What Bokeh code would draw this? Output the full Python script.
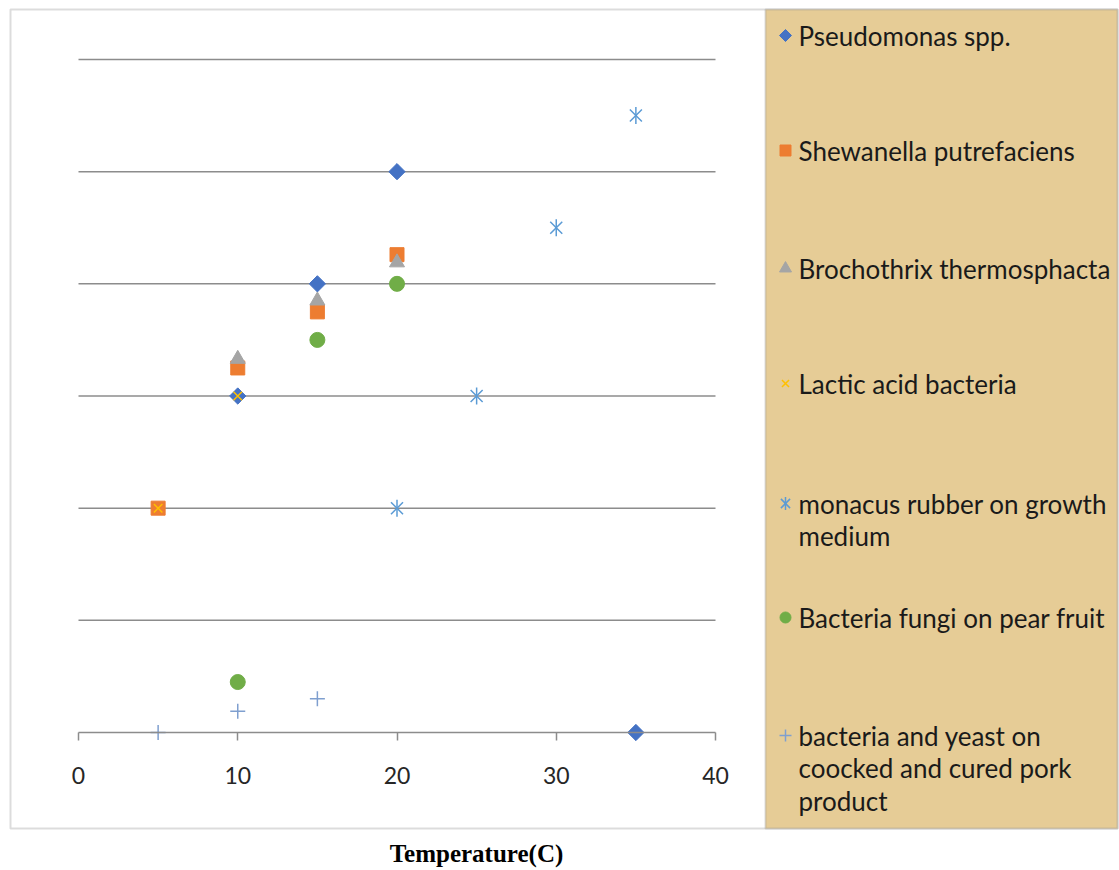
import math
from bokeh.plotting import figure
from bokeh.models import Range1d, FixedTicker, BoxAnnotation, Label
from bokeh.core.properties import value
from bokeh.embed import file_html
from bokeh.resources import INLINE

# ---------------- data ----------------
series_names = [
    "Pseudomonas spp.",
    "Shewanella putrefaciens",
    "Brochothrix thermosphacta",
    "Lactic acid bacteria",
    "monacus rubber on growth\nmedium",
    "Bacteria fungi on pear fruit",
    "bacteria and yeast on\ncoocked and cured pork\nproduct",
]
pseudomonas_x = [10, 15, 20, 35]
pseudomonas_y = [3, 4, 5, 0]
shewanella_x = [5, 10, 15, 20]
shewanella_y = [2, 3.25, 3.75, 4.26]
brochothrix_x = [10, 15, 20]
brochothrix_y = [3.33, 3.85, 4.19]
lactic_x = [5, 10]
lactic_y = [2, 3]
monacus_x = [20, 25, 30, 35]
monacus_y = [2, 3, 4.5, 5.5]
fungi_x = [10, 15, 20]
fungi_y = [0.45, 3.5, 4.0]
pork_x = [5, 10, 15]
pork_y = [0, 0.19, 0.3]
x_ticks = [0, 10, 20, 30, 40]
x_tick_labels = ["0", "10", "20", "30", "40"]
grid_levels = [1, 2, 3, 4, 5, 6]
x_title = "Temperature(C)"

# ---------------- layout / styles ----------------
W, H = 1119, 870
X0_PX, X40_PX = 78, 715          # pixel positions of x = 0 and x = 40
Y0_PX, Y6_PX = 732, 59           # pixel positions of y = 0 and y = 6
kx = (X40_PX - X0_PX) / 40.0
ky = (Y0_PX - Y6_PX) / 6.0
x_start = -X0_PX / kx
x_end = x_start + W / kx
y_end = Y0_PX / ky
y_start = y_end - H / ky

def cx(px):  # canvas px -> data x (for decorations only)
    return x_start + px / kx

def cy(py):  # canvas px -> data y (for decorations only)
    return y_end - py / ky

colors = ["#4472C4", "#ED7D31", "#A5A5A5", "#FFC000", "#5B9BD5", "#70AD47", "#7F9FCF"]
markers = ["square", "square", "triangle", "x", "x", "circle", "cross"]
angles = [math.pi / 4, 0, 0, 0, 0, 0, 0]
sizes = [11.5, 14, 15, 12, 17, 15, 15]
legend_sizes = [8.5, 11, 12, 10, 13, 11, 12]
filled = [True, True, True, False, False, True, False]
xs = [pseudomonas_x, shewanella_x, brochothrix_x, lactic_x, monacus_x, fungi_x, pork_x]
ys = [pseudomonas_y, shewanella_y, brochothrix_y, lactic_y, monacus_y, fungi_y, pork_y]
STAR = 4  # index of the star-marker series (x plus vertical bar)

GRID = "#8C8C8C"
FONT = "Lato"
TAN = "#E6CC96"

p = figure(width=W, height=H,
           x_range=Range1d(x_start, x_end), y_range=Range1d(y_start, y_end),
           output_backend="svg", toolbar_location=None,
           min_border=0, min_border_left=0, min_border_right=0,
           min_border_top=0, min_border_bottom=0)
p.background_fill_color = "white"
p.border_fill_color = "white"
p.outline_line_color = None
p.yaxis.visible = False
p.xgrid.visible = False
p.ygrid.visible = False

# outer chart box and legend panel
p.add_layout(BoxAnnotation(left=cx(10), right=cx(1117), top=cy(9), bottom=cy(828),
                           fill_color="white", fill_alpha=1.0,
                           line_color=GRID, line_width=2, level="underlay"))
p.add_layout(BoxAnnotation(left=cx(765), right=cx(1117), top=cy(9), bottom=cy(828),
                           fill_color=TAN, fill_alpha=1.0,
                           line_color=GRID, line_width=2, level="underlay"))

# horizontal grid lines over the temperature span
p.segment(x0=[x_ticks[0]] * len(grid_levels), x1=[x_ticks[-1]] * len(grid_levels),
          y0=grid_levels, y1=grid_levels, line_color=GRID, line_width=1.5)

# x axis placed at y = 0 over 0..40 (line and ticks; labels drawn below as text)
xa = p.xaxis[0]
xa.fixed_location = 0
xa.bounds = (x_ticks[0], x_ticks[-1])
xa.ticker = FixedTicker(ticks=x_ticks)
xa.minor_tick_line_color = None
xa.major_tick_out = 0
xa.major_tick_in = -8
xa.axis_line_color = GRID
xa.axis_line_width = 1.5
xa.major_tick_line_color = GRID
xa.major_tick_line_width = 1.5
xa.major_label_text_color = None
xa.major_label_text_alpha = 0
xa.major_label_text_font_size = "0px"
xa.major_label_standoff = 0
xa.major_label_overrides = {t: "" for t in x_ticks}

# tick labels
p.text(x=x_ticks, y=[0] * len(x_ticks), text=x_tick_labels, y_offset=43,
       text_font=value(FONT), text_font_size="23px", text_align="center",
       text_baseline="middle", text_color="#262626")

# data series
for k, (sx, sy, c, m, s, f, a) in enumerate(zip(xs, ys, colors, markers, sizes, filled, angles)):
    if f:
        p.scatter(sx, sy, marker=m, size=s, angle=a, fill_color=c, line_color=c, line_width=1)
    else:
        p.scatter(sx, sy, marker=m, size=s, line_color=c, line_width=1.5, fill_color=None)
    if k == STAR:
        p.scatter(sx, sy, marker="dash", size=s, angle=math.pi / 2,
                  line_color=c, line_width=1.5)

# legend entries
entry_y = [35, 150, 268, 383, 503, 617, 735]
line_pitch = 32.5
tx, ty, tt = [], [], []
for name, y0 in zip(series_names, entry_y):
    for i, ln in enumerate(name.split("\n")):
        tx.append(cx(798))
        ty.append(cy(y0 + i * line_pitch))
        tt.append(ln)
for k, (y0, c, m, s, f, a) in enumerate(zip(entry_y, colors, markers, legend_sizes, filled, angles)):
    if f:
        p.scatter([cx(785)], [cy(y0)], marker=m, size=s, angle=a, fill_color=c, line_color=c)
    else:
        p.scatter([cx(785)], [cy(y0)], marker=m, size=s, line_color=c, line_width=1.5, fill_color=None)
    if k == STAR:
        p.scatter([cx(785)], [cy(y0)], marker="dash", size=s, angle=math.pi / 2,
                  line_color=c, line_width=1.5)

p.text(x=tx, y=ty, text=tt, text_font=value(FONT), text_font_size="26px",
       text_baseline="middle", text_align="left", text_color="#1A1A1A")

p.add_layout(Label(x=cx(476), y=cy(853), text=x_title,
                   text_font="Liberation Serif", text_font_style="bold",
                   text_font_size="25px", text_align="center",
                   text_baseline="middle", text_color="black"))

open("out.html", "w").write(file_html(p, INLINE))
